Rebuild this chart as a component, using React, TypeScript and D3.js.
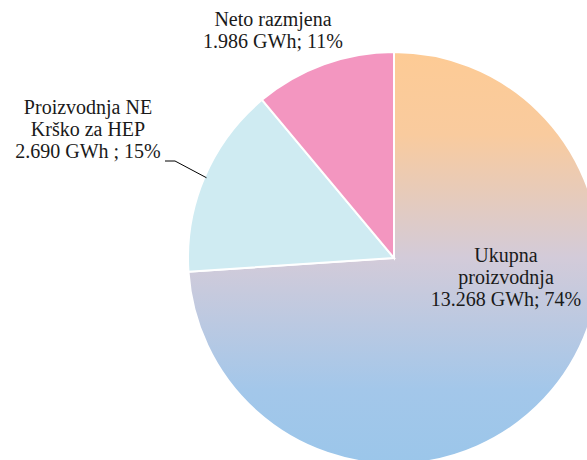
import React from "react";
import * as d3 from "d3";

const categories = ["Ukupna proizvodnja", "Proizvodnja NE Krško za HEP", "Neto razmjena"];
const values = [13268, 2690, 1986];
const percents = ["74%", "15%", "11%"];
const labelLines = [
  ["Ukupna", "proizvodnja", "13.268 GWh; 74%"],
  ["Proizvodnja NE", "Krško za HEP", "2.690 GWh ; 15%"],
  ["Neto razmjena", "1.986 GWh; 11%"],
];
const colors = ["url(#bigGrad)", "#CFEBF2", "#F396C0"];

const W = 587;
const H = 460;
const cx = 394;
const cy = 258;
const R = 206;

// label anchor positions (center x, first baseline y)
const labelPos = [
  { x: 506, y: 262 },
  { x: 88, y: 114 },
  { x: 273, y: 26 },
];

export default function App() {
  const pie = d3
    .pie<number>()
    .sort(null)
    .value((d) => d)
    .startAngle(0)
    .endAngle(2 * Math.PI);
  const arcs = pie(values);
  const arc = d3.arc<d3.PieArcDatum<number>>().innerRadius(0).outerRadius(R);

  // leader line for slice 2
  const a1 = arcs[1];
  const mid = (a1.startAngle + a1.endAngle) / 2;
  const ex = cx + Math.sin(mid) * (R - 2);
  const ey = cy - Math.cos(mid) * (R - 2);
  const line = d3.line()([
    [165, 161],
    [175, 161],
    [ex, ey],
  ]);

  return (
    <svg
      width={W}
      height={H}
      style={{ position: "fixed", left: 0, top: 0, background: "#fff", fontFamily: "Liberation Serif, serif" }}
    >
      <defs>
        <linearGradient id="bigGrad" gradientUnits="userSpaceOnUse" x1={0} y1={-R} x2={0} y2={R}>
          <stop offset="0" stopColor="#FDCB95" />
          <stop offset="0.2" stopColor="#F9CB9E" />
          <stop offset="0.5" stopColor="#D3CBD9" />
          <stop offset="0.82" stopColor="#A3C7EA" />
          <stop offset="1" stopColor="#9BC6EA" />
        </linearGradient>
      </defs>
      <g transform={`translate(${cx},${cy})`}>
        {arcs.map((a, i) => (
          <path key={categories[i]} d={arc(a) || ""} fill={colors[i]} stroke="#fff" strokeWidth={2} />
        ))}
      </g>
      <path d={line || ""} fill="none" stroke="#000" strokeWidth={1} />
      {labelLines.map((lines, i) => (
        <text
          key={categories[i]}
          x={labelPos[i].x}
          y={labelPos[i].y}
          textAnchor="middle"
          fontSize={20}
          fill="#1a1a1a"
          style={{ fontFamily: "Liberation Serif, serif" }}
          data-pct={percents[i]}
        >
          {lines.map((l, j) => (
            <tspan key={j} x={labelPos[i].x} dy={j === 0 ? 0 : 22}>
              {l}
            </tspan>
          ))}
        </text>
      ))}
    </svg>
  );
}
